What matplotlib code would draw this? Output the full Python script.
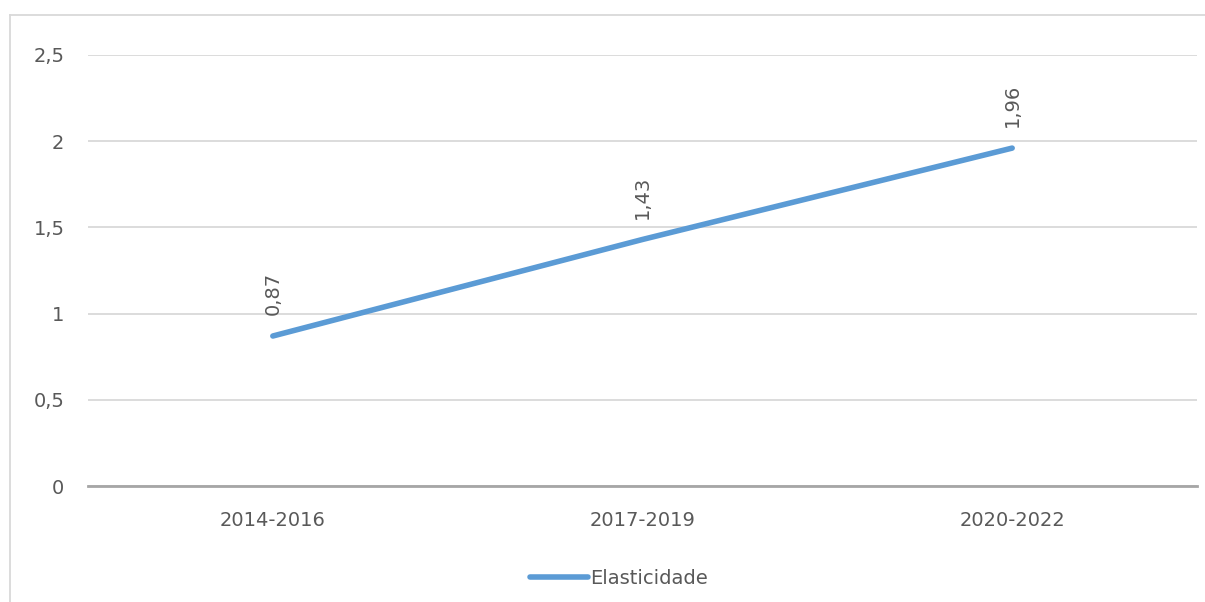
import matplotlib.pyplot as plt
from matplotlib.lines import Line2D

# dados
periodos = ["2014-2016", "2017-2019", "2020-2022"]
elasticidade = [0.87, 1.43, 1.96]
yticks = [0, 0.5, 1, 1.5, 2, 2.5]

plt.rcParams['font.family'] = ['DejaVu Sans']
cinza = "#595959"
azul = "#5B9BD5"

fig = plt.figure(figsize=(12.05, 6.02), dpi=100)
W, H = 1205, 602
ax = fig.add_axes([88 / W, 1 - 486 / H, (1197 - 88) / W, (486 - 55) / H])

# borda externa do gráfico (só topo e esquerda aparecem)
borda = dict(transform=fig.transFigure, color="#D9D9D9", linewidth=1.3)
fig.add_artist(Line2D([10 / W, 1.0], [1 - 15 / H] * 2, **borda))
fig.add_artist(Line2D([10 / W] * 2, [0, 1 - 15 / H], **borda))

x = list(range(len(periodos)))
ax.plot(x, elasticidade, color=azul, linewidth=4, solid_capstyle="round")

for xi, v in zip(x, elasticidade):
    ax.annotate(f"{v:.2f}".replace(".", ","), (xi, v), xytext=(0, 15),
                textcoords="offset points", rotation=90, ha="center",
                va="bottom", fontsize=14, color=cinza)

ax.set_xlim(-0.5, len(periodos) - 0.5)
ax.set_ylim(0, 2.5)
ax.set_yticks(yticks)
ax.set_yticklabels([f"{t:g}".replace(".", ",") for t in yticks])
ax.set_xticks(x)
ax.set_xticklabels(periodos)
ax.tick_params(axis="both", length=0, labelsize=14, labelcolor=cinza)
ax.tick_params(axis="y", pad=17)
ax.tick_params(axis="x", pad=18)

ax.grid(axis="y", color="#D9D9D9", linewidth=1.3)
ax.set_axisbelow(True)
for s in ["top", "right", "left"]:
    ax.spines[s].set_visible(False)
ax.spines["bottom"].set_color("#A6A6A6")
ax.spines["bottom"].set_linewidth(2)

handle = Line2D([0], [0], color=azul, linewidth=4, solid_capstyle="round")
fig.legend([handle], ["Elasticidade"], loc="center", bbox_to_anchor=(619 / W, 1 - 578 / H),
           frameon=False, fontsize=14, labelcolor=cinza, handlelength=3.0,
           handletextpad=0.1)

fig.savefig("out.png", dpi=100)
